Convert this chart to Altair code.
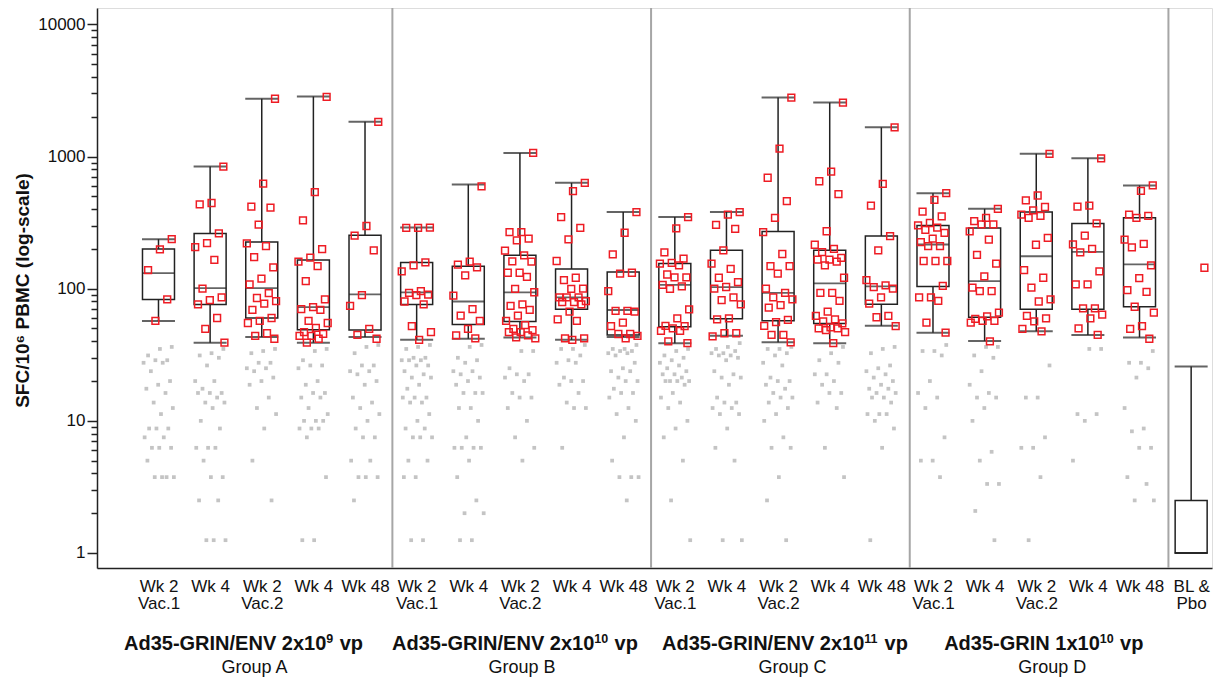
import json
import altair as alt
import pandas as pd

# ---------------- data ----------------
tick_labels = ["Wk 2|Vac.1", "Wk 4", "Wk 2|Vac.2", "Wk 4", "Wk 48"] * 4 + ["BL &|Pbo"]

box_min = [57, 39, 43, 39, 43, 41, 41.8, 42.8, 41, 43, 38.7, 44, 39.3, 38.7, 52.4,
           46.5, 40.2, 47.6, 44.7, 42.8, 1]
box_q1 = [83, 76, 60, 48.8, 48.6, 76, 53.5, 56.5, 70, 44.7, 51.5, 59.3, 57.3, 54.6, 76.4,
          104, 60.8, 70, 70, 73, 1]
box_med = [131, 101, 101, 72.5, 90.5, 93.8, 80, 93.8, 86, 69, 106.7, 102.6, 93, 109.5, 104,
           216, 114, 176, 190, 153, 1]
box_q3 = [200, 262, 226, 165, 254, 158, 148, 179, 141, 134, 155, 195, 271, 195, 250,
          301, 288, 380, 312, 344, 2.5]
box_max = [237, 839, 2737, 2844, 1832, 290, 614, 1064, 632, 380, 348, 380, 2793, 2561, 1663,
           528, 402, 1048, 970, 604, 25.8]

responders = [
    [237, 198, 138, 83, 57],
    [839, 445, 434, 262, 221, 206, 165, 100, 86, 82, 76, 60, 49.6, 39],
    [2737, 624, 418, 410, 305, 220, 210, 173, 145, 119, 108, 92.5, 85, 80.5, 77, 69, 60, 57, 55, 46, 44, 41.8],
    [2830, 537, 329, 199, 172, 160, 148, 114, 83, 72.5, 70, 69, 57, 55, 50.5, 47, 45.5, 44, 44, 41.8, 39],
    [1832, 298, 252, 195, 89.5, 74, 49.6, 44.7, 41.8],
    [290, 288, 288, 158, 150, 135, 96, 93, 90, 89.5, 80, 76, 52, 47, 41],
    [594, 160, 152, 145, 126, 88.5, 70, 62.6, 57, 49.6, 44.4, 42],
    [1064, 268, 268, 239, 232, 194, 179, 161, 160, 132, 132, 123, 99.5, 94, 76, 74, 69, 62.6, 57, 53,
     49.6, 48.6, 47, 47, 44.4, 42.8, 42],
    [632, 547, 348, 288, 236, 162, 121, 116, 100, 99.5, 86, 86, 86, 80.5, 79, 79, 76, 67, 58.5, 57, 42, 42, 41],
    [380, 265, 182, 132, 130, 96, 68, 68, 67, 55.3, 52, 45.4, 45.4, 44, 42],
    [348, 286, 188, 169, 157, 155, 150, 128, 122, 122, 107, 104, 99.5, 69.6, 59.7, 52.4, 52, 50, 48, 48, 40, 38.7],
    [380, 364, 304, 284, 195, 155, 141, 121, 112, 103, 100, 86, 82, 76, 59.7, 58.5, 46, 46, 43.6],
    [2793, 1148, 691, 459, 344, 268, 183, 148, 148, 130, 100, 93, 86, 83, 75, 72, 58, 55.8, 52.4, 44.7, 44.7, 39.3],
    [2561, 770, 650, 520, 272, 215, 200, 189, 171, 166, 166, 160, 150, 121, 93, 93, 81, 67, 62.3, 58.5,
     56.5, 54.6, 51, 50, 50, 48.6, 47, 38.7],
    [1663, 620, 425, 250, 195, 116, 106, 102.6, 100, 86, 77, 62.3, 60.8, 52],
    [528, 470, 383, 352, 314, 301, 290, 279, 264, 239, 225, 210, 210, 162, 162, 162, 105, 86, 86, 81, 55.3, 46.5],
    [402, 344, 324, 307, 307, 271, 235, 180, 155, 124, 102, 96, 96, 66, 61.8, 59, 57, 57, 55.3, 39.9],
    [1048, 507, 466, 415, 391, 363, 356, 344, 242, 215, 138, 121, 102, 83, 80, 62.3, 59.7, 56.5, 49.6, 47.6],
    [970, 425, 418, 312, 252, 216, 200, 188, 135, 108, 108, 71, 71, 63.7, 59.7, 50, 44.7],
    [604, 550, 363, 356, 344, 235, 218, 205, 150, 120, 97.6, 94.5, 73, 66, 52, 49.6, 41.8],
    [144],
]

non_responders = [
    [36.25, 35, 31.25, 28.75, 28.75, 27.5, 27.5, 23.75, 20, 18.75, 17.5, 16.25, 13.75, 12.5, 11.25,
     8.75, 8.75, 8.75, 7.5, 7.5, 6.25, 6.25, 6.25, 5, 3.75, 3.75, 3.75, 3.75],
    [35, 32.5, 31.25, 30, 26.25, 20, 20, 17.5, 16.25, 16.25, 16.25, 15, 13.75, 13.75, 12.5, 10, 8.75,
     6.25, 6.25, 6.25, 5, 3.75, 3.75, 2.5, 2.5, 1.25, 1.25, 1.25],
    [35, 33.75, 32.5, 27.5, 27.5, 25, 25, 23.75, 21.25, 20, 18.75, 15, 12.5, 11.25, 8.75, 5, 2.5],
    [35, 33.75, 28.75, 26.25, 26.25, 25, 20, 18.75, 16.25, 16.25, 15, 15, 12.5, 11.25, 10, 10, 10,
     8.75, 8.75, 8.75, 7.5, 3.75, 1.25, 1.25],
    [37.5, 36.25, 32.5, 26.25, 26.25, 23.75, 23.75, 22.5, 20, 18.75, 15, 13.75, 12.5, 11.25, 10, 8.75,
     7.5, 7.5, 5, 5, 3.75, 3.75, 3.75, 2.5],
    [37.5, 36.25, 35, 30, 30, 28.75, 28.75, 28.75, 26.25, 26.25, 23.75, 22.5, 21.25, 21.25, 18.75, 17.5,
     15, 15, 15, 13.75, 13.75, 11.25, 10, 8.75, 8.75, 7.5, 7.5, 7.5, 5, 5, 3.75, 3.75, 1.25, 1.25],
    [37.5, 36.25, 30, 28.75, 27.5, 23.75, 23.75, 22.5, 21.25, 20, 18.75, 16.25, 16.25, 16.25, 12.5, 12.5,
     10, 7.5, 6.25, 6.25, 6.25, 6.25, 5, 3.75, 2.5, 2, 2, 1.25, 1.25],
    [33.75, 33.75, 25, 22.5, 22.5, 21.25, 20, 16.25, 15, 15, 12.5, 10, 7.5, 6.25, 5],
    [37.5, 35, 35, 31.25, 28.75, 27.5, 27.5, 21.25, 20, 20, 18.75, 16.25, 13.75, 12.5, 12.5, 6.25],
    [37.5, 35, 35, 33.75, 33.75, 32.5, 32.5, 31.25, 27.5, 25, 23.75, 23.75, 21.25, 20, 20, 17.5, 16.25,
     16.25, 15, 12.5, 11.25, 10, 7.5, 5, 3.75, 3.75, 3.75, 2.5],
    [35, 33.75, 31.25, 30, 28.75, 27.5, 26.25, 25, 23.75, 22.5, 22.5, 21.25, 20, 20, 20, 20, 18.75, 16.25,
     15, 13.75, 12.5, 10, 8.75, 7.5, 5, 2.5, 1.25],
    [38.75, 36.25, 35, 33.75, 32.5, 32.5, 31.25, 31.25, 30, 28.75, 23.75, 22.5, 21.25, 21.25, 18.75, 15,
     13.75, 13.75, 12.5, 12.5, 11.25, 11.25, 8.75, 6.25, 5, 1.25, 1.25],
    [36.25, 35, 35, 32.5, 31.25, 27.5, 26.25, 21.25, 20, 20, 18.75, 17.5, 16.25, 15, 15, 13.75, 12.5,
     11.25, 10, 7.5, 6.25, 6.25, 3.75, 2.5, 1.25],
    [36.25, 32.5, 28.75, 27.5, 22.5, 22.5, 20, 18.75, 16.25, 16.25, 13.75, 12.5, 6.25, 3.75],
    [36.25, 35, 32.5, 26.25, 25, 23.75, 22.5, 21.25, 20, 18.75, 17.5, 17.5, 16.25, 16.25, 15, 15, 13.75,
     11.25, 11.25, 11.25, 10, 8.75, 6.25, 1.25],
    [37.5, 33.75, 33.75, 31.25, 20, 16.25, 15, 12.5, 7.5, 5, 5, 3.75],
    [36.25, 36.25, 31.25, 30, 23.75, 18.75, 16.25, 15, 15, 12.5, 10, 5.83, 5, 3.33, 3.33, 2.08, 1.25],
    [26.25, 15, 15, 7.5, 6.25, 6.25, 3.75, 1.25],
    [35, 35, 11.25, 11.25, 10, 5],
    [33.75, 27.5, 27.5, 25, 21.25, 12.5, 8.75, 8.33, 6.25, 6.25, 3.75, 3.33, 2.5, 2.5],
    [],
]

separators = [4.53, 9.54, 14.55, 19.56]

# group titles: base text, superscript exponent, tail (after a space)
group_title_base = ["Ad35-GRIN/ENV 2x10", "Ad35-GRIN/ENV 2x10", "Ad35-GRIN/ENV 2x10", "Ad35-GRIN 1x10"]
group_title_exp = ["9", "10", "11", "10"]
group_title_tail = ["vp", "vp", "vp", "vp"]
group_title_anchor = [3.25, 8.44, 13.67, 18.23]   # where the exponent starts (category units)
group_names = ["Group A", "Group B", "Group C", "Group D"]
group_name_at = [1.86, 7.04, 12.28, 17.31]

y_major = [1, 10, 100, 1000, 10000]
y_ticks = [d * k for d in [1, 10, 100, 1000] for k in range(1, 10)] + [10000]

# ---------------- tables ----------------
boxes = pd.DataFrame({
    "x": list(range(len(box_min))),
    "lo": box_min, "q1": box_q1, "med": box_med, "q3": box_q3, "hi": box_max,
})

rows = []
for i, (pos, neg) in enumerate(zip(responders, non_responders)):
    for v in neg:
        rows.append({"i": i, "v": v, "kind": "neg"})
    for v in pos:
        rows.append({"i": i, "v": v, "kind": "pos"})
points = pd.DataFrame(rows)

seps = pd.DataFrame({"x": separators})
titles = pd.DataFrame({"x": group_title_anchor, "b": group_title_base,
                       "e": group_title_exp, "t": group_title_tail})
names = pd.DataFrame({"x": group_name_at, "t": group_names})

# ---------------- scales & axes ----------------
FONT = "Liberation Sans"
W, H = 1115, 560
STEP_PX = 52.1
xscale = alt.Scale(domain=[-1.094, 20.307], nice=False, zero=False)
major_test = "indexof(" + json.dumps(y_major) + ", datum.value) >= 0"
yscale = alt.Scale(type="log", domain=[0.77, 13300], nice=False)

xaxis = alt.Axis(
    values=list(range(len(tick_labels))),
    labelExpr="split(" + json.dumps(tick_labels) + "[datum.value], '|')",
    title=None, ticks=False, grid=False, labelFlush=False, labelOverlap=False,
    labelFont=FONT, labelFontSize=17, labelLineHeight=17, labelPadding=10,
    labelColor="#111", domainColor="#222", domainWidth=1.5,
)
yaxis = alt.Axis(
    values=y_ticks, format="d",
    labelExpr=major_test + " ? datum.label : ''",
    tickSize={"condition": {"test": major_test, "value": 10}, "value": 6},
    title="SFC/10⁶ PBMC (log-scale)", titleFont=FONT, titleFontSize=19,
    titleFontWeight="bold", titleColor="#111", titleX=-75, titleY=282,
    titleAngle=-90, titleAlign="center", titleBaseline="middle",
    grid=False, labelOverlap=False, labelFlush=False,
    labelFont=FONT, labelFontSize=17, labelPadding=2, labelColor="#111",
    domainColor="#222", domainWidth=1.5, tickColor="#222", tickWidth=1.5,
)


def X(field):
    return alt.X(field, type="quantitative", scale=xscale, axis=xaxis)


def Y(field):
    return alt.Y(field, type="quantitative", scale=yscale, axis=yaxis)


BOXW = 32
STROKE = "#222"

sep_layer = alt.Chart(seps).mark_rule(color="#a6a6a6", strokeWidth=2).encode(
    x=X("x"), y=alt.value(0), y2=alt.value(H)
)
whisker = alt.Chart(boxes).mark_rule(color=STROKE, strokeWidth=1.5).encode(
    x=X("x"), y=Y("lo"), y2="hi"
)
box = alt.Chart(boxes).mark_bar(
    size=BOXW, fill="white", stroke=STROKE, strokeWidth=1.5
).encode(x=X("x"), y=Y("q1"), y2="q3")
median = alt.Chart(boxes).mark_tick(
    orient="horizontal", size=BOXW, thickness=1.8, color=STROKE
).encode(x=X("x"), y=Y("med"))
cap_lo = alt.Chart(boxes).mark_tick(
    orient="horizontal", size=BOXW + 1, thickness=2, color=STROKE
).encode(x=X("x"), y=Y("lo"))
cap_hi = alt.Chart(boxes).mark_tick(
    orient="horizontal", size=BOXW + 1, thickness=2, color=STROKE
).encode(x=X("x"), y=Y("hi"))

jittered = alt.Chart(points).transform_window(
    rn="row_number()", groupby=["i", "kind"]
).transform_calculate(
    x="datum.i + ((datum.rn * 0.6180339887 + 0.31) % 1 - 0.5) * 0.6"
)
grey_pts = jittered.transform_filter(alt.datum.kind == "neg").mark_square(
    size=14, color="#c4c4c4", opacity=1
).encode(x=X("x"), y=Y("v"))
red_pts = jittered.transform_filter(alt.datum.kind == "pos").mark_point(
    shape="square", filled=False, size=46, color="#ee1c24", strokeWidth=1.5, opacity=1
).encode(x=X("x"), y=Y("v"))

TITLE_BASE_Y = 642
TITLE_FS = 20
EXP_FS = 12.5
title_base = alt.Chart(titles).mark_text(
    font=FONT, fontSize=TITLE_FS, fontWeight="bold", baseline="alphabetic", align="right", color="#111"
).encode(x=X("x"), y=alt.value(TITLE_BASE_Y), text="b:N")
title_exp = alt.Chart(titles).mark_text(
    font=FONT, fontSize=EXP_FS, fontWeight="bold", baseline="alphabetic", align="left", color="#111"
).encode(x=X("x"), y=alt.value(TITLE_BASE_Y - 7), text="e:N")
title_tail = alt.Chart(titles).transform_calculate(
    x2=f"datum.x + (length(datum.e) * {EXP_FS * 0.556} + 1 + {TITLE_FS * 0.278}) / {STEP_PX}"
).mark_text(
    font=FONT, fontSize=TITLE_FS, fontWeight="bold", baseline="alphabetic", align="left", color="#111"
).encode(x=X("x2"), y=alt.value(TITLE_BASE_Y), text="t:N")
name_layer = alt.Chart(names).mark_text(
    font=FONT, fontSize=18, baseline="alphabetic", align="center", color="#111"
).encode(x=X("x"), y=alt.value(665), text="t:N")

chart = alt.layer(
    sep_layer, grey_pts, whisker, box, median, cap_lo, cap_hi, red_pts,
    title_base, title_exp, title_tail, name_layer
).properties(
    width=W, height=H,
    autosize=alt.AutoSizeParams(type="none"),
    padding={"left": 89, "top": 0, "right": 1, "bottom": 110},
).configure_view(stroke=None).configure(background="white")

chart.save("out.html", embed_options={"renderer": "svg", "actions": False})
